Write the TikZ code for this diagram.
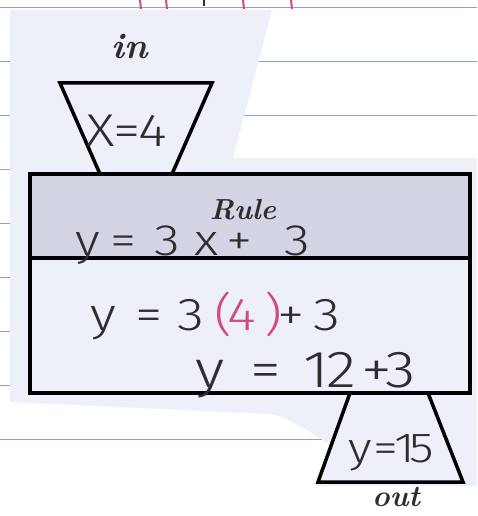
\documentclass[tikz,border=0pt]{standalone}
\usepackage{fontspec}
\usepackage{xcolor}
\usepackage{tikz}
\usetikzlibrary{positioning, calc}
\newfontfamily\handfont{Fira Sans Light}[FakeStretch=1.2]
\newcommand\glyphbox[2]{\makebox[#1pt][l]{#2}}
\definecolor{paperblue}{HTML}{EDF0F8}
\definecolor{rulegray}{HTML}{D3D5E5}
\definecolor{lineblue}{HTML}{8E9EE2}
\definecolor{inkpink}{HTML}{D4497E}
\definecolor{inkgray}{HTML}{2E2E2E}

\begin{document}
\begin{tikzpicture}[x=1pt, y=-1pt,
    frame/.style={draw=black, line width=3.5pt, line join=miter},
    hand/.style={font=\handfont\fontsize{#1}{#1}\selectfont, text=inkgray, inner sep=0pt, anchor=base west},
    tag/.style={font=\fontsize{#1}{#1}\selectfont\bfseries\itshape, text=inkgray, inner sep=0pt}]
  \useasboundingbox (0,0) rectangle (477,516);
  \fill[white] (0,0) rectangle (477,516);
  % notebook lines
  \foreach \y in {7,61,...,439}
    \draw[lineblue, line width=0.6pt] (0,\y) -- (477,\y);
  \foreach \x in {140,166,243,291}
    \draw[inkpink, line width=2pt] (\x,0) -- (\x+1,9);
  \draw[inkgray, line width=2pt] (204,0) -- (204,6);
  % cut-out sheet
  \fill[paperblue] (10,10) -- (272,10) -- (233,158) -- (477,158) -- (477,486)
    -- (316,486) -- (318,474) -- (332,446) -- (310,432) -- (285,418)
    -- (270,414) -- (10,402) -- cycle;
  % rule box
  \fill[rulegray] (30,174) rectangle (470,258);
  \draw[frame] (30,174) rectangle (470,393);
  \draw[frame] (30,258) -- (470,258);
  % funnels
  \draw[frame] (100,174) -- (60,83) -- (212,83) -- (172,174);
  \draw[frame] (350,393) -- (318,482) -- (463,482) -- (428,393);
  % text
  \node[tag=36] (in) at (130,47) {in};
  \node[hand=46] (xin) at (86,146)
    {\glyphbox{27}{X}\glyphbox{25}{=}4};
  \node[tag=29, anchor=base] (rule) at (243,219) {Rule};
  \node[hand=44] (rulexp) at (75,255)
    {\glyphbox{35}{y}\glyphbox{44}{=}\glyphbox{40}{3}\glyphbox{32}{x}\glyphbox{58}{+}3};
  \node[hand=46] (subst) at (90,330)
    {\glyphbox{45}{y}\glyphbox{42}{=}\glyphbox{37}{3}\color{inkpink}\glyphbox{13}{(}\glyphbox{37}{4}\glyphbox{13}{)}\color{inkgray}\glyphbox{36}{+}3};
  \node[hand=52] (sum) at (195,387)
    {\glyphbox{55}{y}\glyphbox{53}{=}\glyphbox{23}{1}\glyphbox{35}{2}\glyphbox{24}{+}3};
  \node[hand=42] (yout) at (348,462)
    {\glyphbox{25}{y}\glyphbox{21}{=}\glyphbox{15}{1}5};
  \node[tag=30] (out) at (396,497) {out};
\end{tikzpicture}
\end{document}
